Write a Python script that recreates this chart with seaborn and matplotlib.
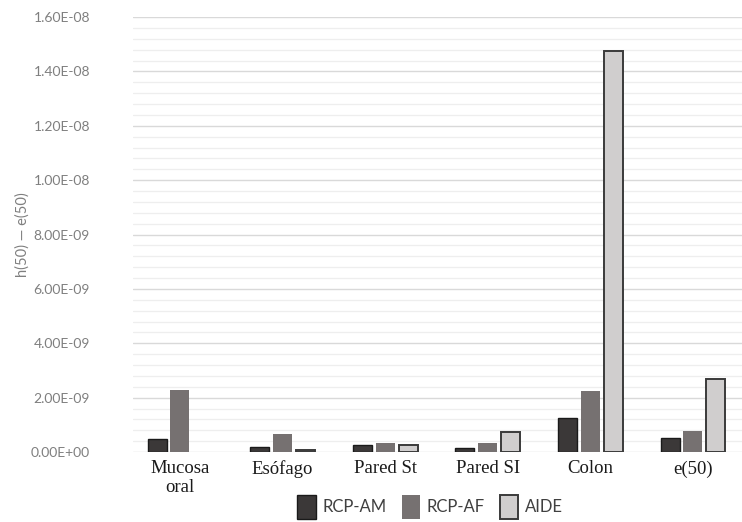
import numpy as np
import pandas as pd
import matplotlib
matplotlib.use("Agg")
import matplotlib.pyplot as plt
from matplotlib.ticker import MultipleLocator, FuncFormatter
from matplotlib.patches import Patch
import seaborn as sns

# Organs / tissues on the x axis
categories = ["Mucosa\noral", "Esófago", "Pared St", "Pared SI", "Colon", "e(50)"]
series = ["RCP-AM", "RCP-AF", "AIDE"]

# Dose coefficients per organ (Sv/Bq)
rcp_am = [4.6e-10, 1.8e-10, 2.7e-10, 1.5e-10, 1.26e-09, 5.1e-10]
rcp_af = [2.28e-09, 6.7e-10, 3.3e-10, 3.3e-10, 2.25e-09, 7.9e-10]
aide = [np.nan, 6.0e-11, 2.7e-10, 7.5e-10, 1.475e-08, 2.68e-09]

fill_colors = ["#3b3838", "#767171", "#d0cece"]
edge_colors = ["#1a1a1a", "#767171", "#3a3a3a"]
edge_widths = [1.0, 0.0, 1.4]

df = pd.DataFrame({
    "organ": categories * 3,
    "serie": sum([[s] * len(categories) for s in series], []),
    "valor": rcp_am + rcp_af + aide,
})

sns.set_theme(style="white")
plt.rcParams["font.family"] = ["Lato", "DejaVu Sans"]

fig = plt.figure(figsize=(7.42, 5.22), dpi=100)
ax = fig.add_axes([133 / 742, 1 - 452 / 522, 1 - 133 / 742, (452 - 17) / 522])

sns.barplot(data=df, x="organ", y="valor", hue="serie", order=categories,
            hue_order=series, palette=fill_colors, width=0.67, gap=0.17,
            legend=False, ax=ax, saturation=1)

for cont, ec, lw in zip(ax.containers, edge_colors, edge_widths):
    for bar in cont:
        bar.set_edgecolor(ec)
        bar.set_linewidth(lw)

ax.set_ylim(0, 1.6e-08)
ax.set_xlim(-0.458, 5.478)
ax.yaxis.set_major_locator(MultipleLocator(2e-09))
ax.yaxis.set_minor_locator(MultipleLocator(4e-10))
ax.yaxis.set_major_formatter(FuncFormatter(lambda v, p: f"{v:.2E}"))
ax.grid(axis="y", which="major", color="#d9d9d9", linewidth=1.0)
ax.grid(axis="y", which="minor", color="#eeeeee", linewidth=0.9)
ax.set_axisbelow(True)
for s in ax.spines.values():
    s.set_visible(False)

ax.tick_params(axis="y", which="both", length=0, labelsize=10, labelcolor="#7f7f7f", pad=31)
ax.tick_params(axis="x", length=0, pad=6)
for lbl in ax.get_xticklabels():
    lbl.set_fontfamily("Liberation Serif")
    lbl.set_fontsize(13.5)
    lbl.set_color("#1a1a1a")
    lbl.set_linespacing(1.1)

ax.set_xlabel("")
ax.set_ylabel("h(50) — e(50)", fontsize=10.5, color="#7f7f7f", labelpad=1)

handles = [Patch(facecolor=c, edgecolor=e if w > 0 else c, linewidth=w)
           for c, e, w in zip(fill_colors, edge_colors, edge_widths)]
leg = fig.legend(handles, series, loc="center", bbox_to_anchor=(430 / 742, 1 - 507 / 522),
                 ncol=3, frameon=False, fontsize=12, handlelength=1.1,
                 handleheight=1.9, handletextpad=0.4, columnspacing=0.9,
                 borderpad=0.1)
for t in leg.get_texts():
    t.set_color("#404040")

fig.savefig("out.png", dpi=100)
